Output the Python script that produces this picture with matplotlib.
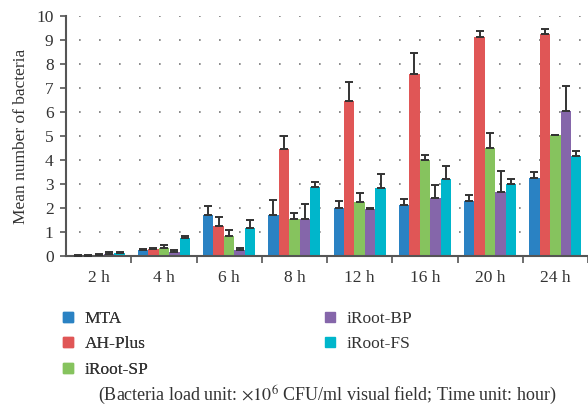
import numpy as np
import matplotlib
matplotlib.use("Agg")
import matplotlib.pyplot as plt
from matplotlib.lines import Line2D

plt.rcParams['font.family'] = ['Liberation Serif', 'DejaVu Serif']
plt.rcParams['mathtext.fontset'] = 'stix'

categories = ["2 h", "4 h", "6 h", "8 h", "12 h", "16 h", "20 h", "24 h"]
series_names = ["MTA", "AH-Plus", "iRoot-SP", "iRoot-BP", "iRoot-FS"]
colors = ["#2a82c3", "#e05656", "#86c35e", "#8566aa", "#00b6cb"]

mta      = [0.02, 0.25, 1.70, 1.70, 2.01, 2.12, 2.31, 3.24]
ah_plus  = [0.02, 0.30, 1.23, 4.44, 6.47, 7.59, 9.13, 9.25]
iroot_sp = [0.05, 0.33, 0.82, 1.54, 2.24, 3.98, 4.48, 5.03]
iroot_bp = [0.08, 0.17, 0.26, 1.56, 1.96, 2.41, 2.68, 6.06]
iroot_fs = [0.12, 0.75, 1.17, 2.89, 2.85, 3.19, 2.98, 4.15]

mta_err      = [0.02, 0.05, 0.39, 0.64, 0.29, 0.25, 0.23, 0.24]
ah_plus_err  = [0.02, 0.05, 0.39, 0.54, 0.76, 0.86, 0.26, 0.20]
iroot_sp_err = [0.03, 0.12, 0.25, 0.26, 0.40, 0.22, 0.65, 0.02]
iroot_bp_err = [0.10, 0.10, 0.06, 0.61, 0.04, 0.54, 0.88, 1.01]
iroot_fs_err = [0.03, 0.07, 0.34, 0.21, 0.58, 0.56, 0.22, 0.22]

values = [mta, ah_plus, iroot_sp, iroot_bp, iroot_fs]
errors = [mta_err, ah_plus_err, iroot_sp_err, iroot_bp_err, iroot_fs_err]

FS = 12.5
fig = plt.figure(figsize=(5.88, 4.08), dpi=100)
ax = fig.add_axes([66/588, 1-256/408, 1-66/588, (256-16)/408])

x = np.arange(len(categories))
w = 0.16
for i, (vals, errs, c, name) in enumerate(zip(values, errors, colors, series_names)):
    pos = x + (i - 2) * w
    ax.bar(pos, vals, width=w, color=c, label=name, zorder=2)
    ax.errorbar(pos, vals, yerr=[np.zeros(len(errs)), errs], fmt='none',
                ecolor='#333333', elinewidth=1.4, capsize=2.6, capthick=1.4, zorder=3)

ax.set_xlim(-0.5, len(categories) - 0.5)
ax.set_ylim(0, 10)
ax.set_yticks(range(0, 11))
ax.set_xticks(x)
ax.set_xticklabels(categories)
ax.set_xticks(np.arange(len(categories)) + 0.5, minor=True)
ax.tick_params(axis='x', which='major', length=0, labelsize=FS, pad=10, colors='#333333')
ax.tick_params(axis='x', which='minor', length=5, width=1.2, direction='out', color='#555555')
ax.tick_params(axis='y', length=4, width=1.2, direction='out', color='#555555', labelsize=FS, labelcolor='#333333', pad=5)

for yv in range(1, 11):
    ax.axhline(yv, xmin=0.025, xmax=1, color='#777777', linestyle=(0, (1, 11)), linewidth=1.2, zorder=1)

for s in ['top', 'right']:
    ax.spines[s].set_visible(False)
for s in ['left', 'bottom']:
    ax.spines[s].set_color('#555555')
    ax.spines[s].set_linewidth(1.5)

ax.set_ylabel("Mean number of bacteria", fontsize=FS, color='#333333', labelpad=5)

handles = [Line2D([], [], marker='s', linestyle='none', markersize=7.2, color=c) for c in colors]
common = dict(loc='upper left', frameon=False, fontsize=FS, handlelength=0.8, handletextpad=0.55,
              labelspacing=0.55, borderaxespad=0, borderpad=0.2, labelcolor='#333333')
leg1 = fig.legend(handles[:3], series_names[:3], bbox_to_anchor=(58/588, 1-307/408), **common)
fig.add_artist(leg1)
fig.legend(handles[3:], series_names[3:], bbox_to_anchor=(320/588, 1-307/408), **common)

fig.text(327/588, 1-395/408,
         r"(Bacteria load unit: $\times10^{6}$ CFU/ml visual field; Time unit: hour)",
         ha='center', va='center', fontsize=13, color='#333333')

fig.savefig("out.png", dpi=100)
